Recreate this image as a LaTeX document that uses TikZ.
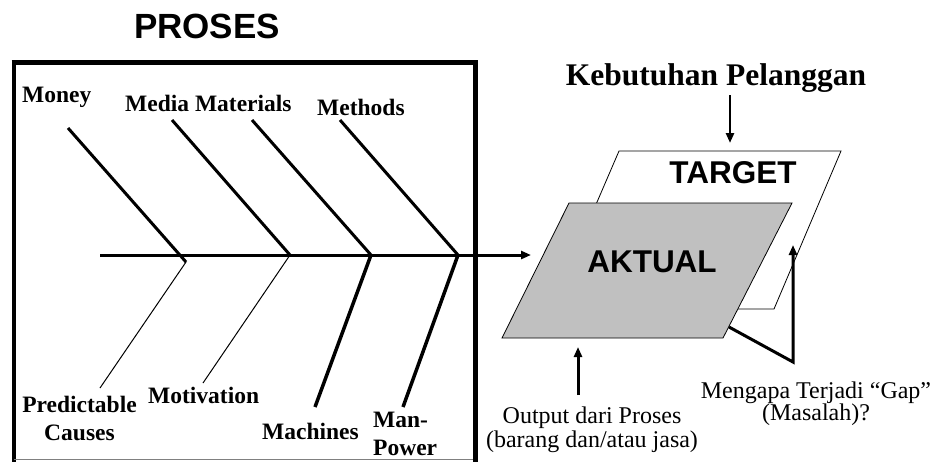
\documentclass[tikz,border=0pt]{standalone}
\usepackage{fontspec}
\setmainfont{Liberation Serif}
\newfontfamily\headfont{Liberation Sans}
\usetikzlibrary{arrows.meta}
\definecolor{aktualgray}{RGB}{192,192,192}
\begin{document}
\begin{tikzpicture}[x=1pt,y=-1pt,
  bone/.style={line width=3pt},
  thinbone/.style={line width=1pt},
  thickbone/.style={line width=3.5pt},
  lbl/.style={inner sep=0pt,font=\fontsize{23.5}{27.5}\selectfont\bfseries},
  note/.style={inner sep=0pt,align=center,font=\fontsize{24}{24}\selectfont},
  head/.style={inner sep=0pt,font=\fontsize{31.5}{34}\selectfont\headfont\bfseries},
  tip/.style={-{Triangle[length=10pt,width=8pt]}},
  plate/.style={line width=0.8pt},
]
\useasboundingbox (0,0) rectangle (933,461);

% process frame
\draw[line width=4pt] (13.5,462) -- (13.5,62.5);
\draw[line width=4.5pt] (11.5,62.5) -- (475.5,62.5);
\draw[line width=5.5pt] (475.5,60.25) -- (475.5,462);
\draw[gray,line width=1pt] (13.5,459) -- (473,459);
\node[inner sep=0pt,font=\fontsize{35}{38}\selectfont\headfont\bfseries,anchor=base] (proses) at (207,38) {PROSES};

% fishbone spine
\coordinate (tail) at (100,255);
\coordinate (spinehead) at (531,255);
\draw[bone,tip] (tail) -- (spinehead);

% bone joints on the spine
\coordinate (j1) at (186,262);
\coordinate (j2) at (290,255);
\coordinate (j3) at (371,255);
\coordinate (j4) at (458,255);
% upper bone ends
\coordinate (u1) at (68,128);
\coordinate (u2) at (172,120);
\coordinate (u3) at (252,120);
\coordinate (u4) at (340,120);
% lower bone ends
\coordinate (l1) at (100,388);
\coordinate (l2) at (203,383);
\coordinate (l3) at (315,407);
\coordinate (l4) at (403,407);

\draw[bone] (u1) -- (j1);
\draw[bone] (u2) -- (j2);
\draw[bone] (u3) -- (j3);
\draw[bone] (u4) -- (j4);
\draw[thinbone] (j1) -- (l1);
\draw[thinbone] (j2) -- (l2);
\draw[thickbone] (j3) -- (l3);
\draw[thickbone] (j4) -- (l4);

% cause labels
\node[lbl,anchor=base west] (money) at (22,102) {Money};
\node[lbl,anchor=base west] (media) at (125,111) {Media Materials};
\node[lbl,anchor=base west] (methods) at (317,115) {Methods};
\node[lbl,align=center,anchor=base] (predict) at (79.5,440) {Predictable\\Causes};
\node[lbl,anchor=base west] (motiv) at (148,403) {Motivation};
\node[lbl,anchor=base west] (machines) at (262,439) {Machines};
\node[lbl,align=left,anchor=base west] (manpower) at (373,455) {Man-\\Power};

% target and actual plates
\draw[plate,fill=white] (619,151) -- (841,151) -- (774,309) -- (551,309) -- cycle;
\node[head,anchor=base] (target) at (733,183) {TARGET};
\draw[plate,fill=aktualgray] (569,203) -- (792,203) -- (723,338) -- (502,338) -- cycle;
\node[head,anchor=base] (aktual) at (652,272) {AKTUAL};

% customer needs
\node[inner sep=0pt,font=\fontsize{31.5}{34}\selectfont\bfseries,anchor=base] (needs) at (716,85) {Kebutuhan Pelanggan};
\coordinate (needtip) at (730,143);
\draw[line width=2.5pt,tip,shorten <=3pt] (needs.south -| needtip) -- (needtip);

% output of the process
\node[note,anchor=base] (output) at (592,447) {Output dari Proses\\(barang dan/atau jasa)};
\coordinate (outfoot) at (578,395);
\coordinate (outtip) at (578,347);
\draw[line width=3pt,tip] (outfoot) -- (outtip);

% gap question
\node[note,font=\fontsize{24}{22}\selectfont,anchor=base] (gap) at (816,420) {Mengapa Terjadi “Gap”\\(Masalah)?};
\coordinate (gapstart) at (729,327);
\coordinate (gapcorner) at (793,362);
\coordinate (gaptip) at (793,245);
\draw[line width=3pt,tip] (gapstart) -- (gapcorner) -- (gaptip);
\end{tikzpicture}
\end{document}
